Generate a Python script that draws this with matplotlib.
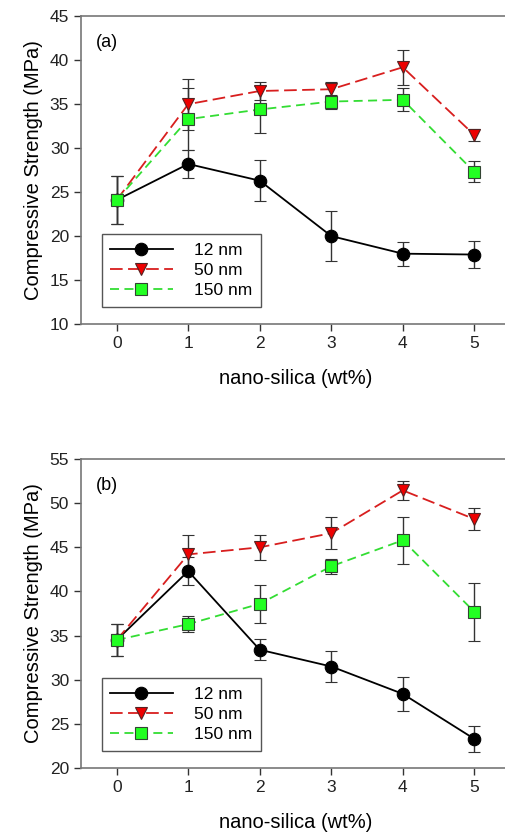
import matplotlib
matplotlib.use('Agg')
import matplotlib.pyplot as plt
from matplotlib.lines import Line2D

plt.rcParams['font.family'] = ['Liberation Sans', 'DejaVu Sans']

x = [0, 1, 2, 3, 4, 5]
labels = ['12 nm', '50 nm', '150 nm']

# panel (a)
a_12 = [24.1, 28.2, 26.3, 20.0, 18.0, 17.9]
a_12_err = [2.7, 1.6, 2.35, 2.8, 1.35, 1.5]
a_50 = [24.1, 35.0, 36.5, 36.7, 39.2, 31.5]
a_50_err = [2.7, 2.9, 1.0, 0.8, 2.0, 0.7]
a_150 = [24.1, 33.3, 34.4, 35.3, 35.5, 27.3]
a_150_err = [2.7, 3.5, 2.7, 0.8, 1.3, 1.2]

# panel (b)
b_12 = [34.5, 42.3, 33.4, 31.5, 28.4, 23.3]
b_12_err = [1.85, 1.6, 1.2, 1.8, 1.9, 1.5]
b_50 = [34.5, 44.2, 45.0, 46.6, 51.45, 48.2]
b_50_err = [1.85, 2.2, 1.45, 1.8, 1.1, 1.2]
b_150 = [34.5, 36.3, 38.6, 42.85, 45.8, 37.7]
b_150_err = [1.85, 0.9, 2.15, 0.85, 2.65, 3.3]

styles = [
    dict(color='black', ls='-', marker='o', mfc='black', mec='black', ms=9),
    dict(color='#d81e1e', ls=(0, (7, 3)), marker='v', mfc='#ee0000', mec='#552222', ms=9),
    dict(color='#33dd33', ls=(0, (5, 3)), marker='s', mfc='#22ff22', mec='#334433', ms=8),
]


def draw_panel(ax, series, errs, ylim, yticks, tag):
    handles = []
    for s, e, st, lab in zip(series, errs, styles, labels):
        ax.errorbar(x, s, yerr=e, color=st['color'], ls=st['ls'], lw=1.3,
                    marker=st['marker'], mfc=st['mfc'], mec=st['mec'], ms=st['ms'],
                    mew=0.8, ecolor='#333333', elinewidth=1.0, capsize=4,
                    capthick=1.0)
        handles.append(Line2D([], [], color=st['color'], ls=st['ls'], lw=1.3,
                              marker=st['marker'], mfc=st['mfc'], mec=st['mec'],
                              ms=st['ms'], mew=0.8, label=lab))
    ax.set_xlim(-0.5, 5.5)
    ax.set_ylim(*ylim)
    ax.set_xticks(x)
    ax.set_yticks(yticks)
    ax.tick_params(direction='out', length=5, width=1, colors='#333333',
                   labelsize=12.5, labelcolor='#222222')
    for sp in ax.spines.values():
        sp.set_color('#777777')
        sp.set_linewidth(1.2)
    ax.set_xlabel('nano-silica (wt%)', fontsize=14.5, labelpad=13)
    ax.set_ylabel('Compressive Strength (MPa)', fontsize=14.5, labelpad=5)
    ax.text(0.035, 0.915, tag, transform=ax.transAxes, fontsize=13,
            va='center', ha='left')
    leg = ax.legend(handles=handles, loc='lower left', bbox_to_anchor=(0.048, 0.055),
                    fontsize=12.5, handlelength=3.6, handletextpad=1.2,
                    fancybox=False, framealpha=1, borderpad=0.5,
                    labelspacing=0.3, borderaxespad=0)
    leg.get_frame().set_edgecolor('#555555')
    leg.get_frame().set_linewidth(1.0)


fig = plt.figure(figsize=(5.06, 8.34), dpi=100)
ax_a = fig.add_axes([0.160, 0.6115, 0.848, 0.369])
ax_b = fig.add_axes([0.160, 0.0791, 0.848, 0.3705])

draw_panel(ax_a, [a_12, a_50, a_150], [a_12_err, a_50_err, a_150_err],
           (10, 45), range(10, 46, 5), '(a)')
draw_panel(ax_b, [b_12, b_50, b_150], [b_12_err, b_50_err, b_150_err],
           (20, 55), range(20, 56, 5), '(b)')

fig.savefig('out.png', dpi=100)
